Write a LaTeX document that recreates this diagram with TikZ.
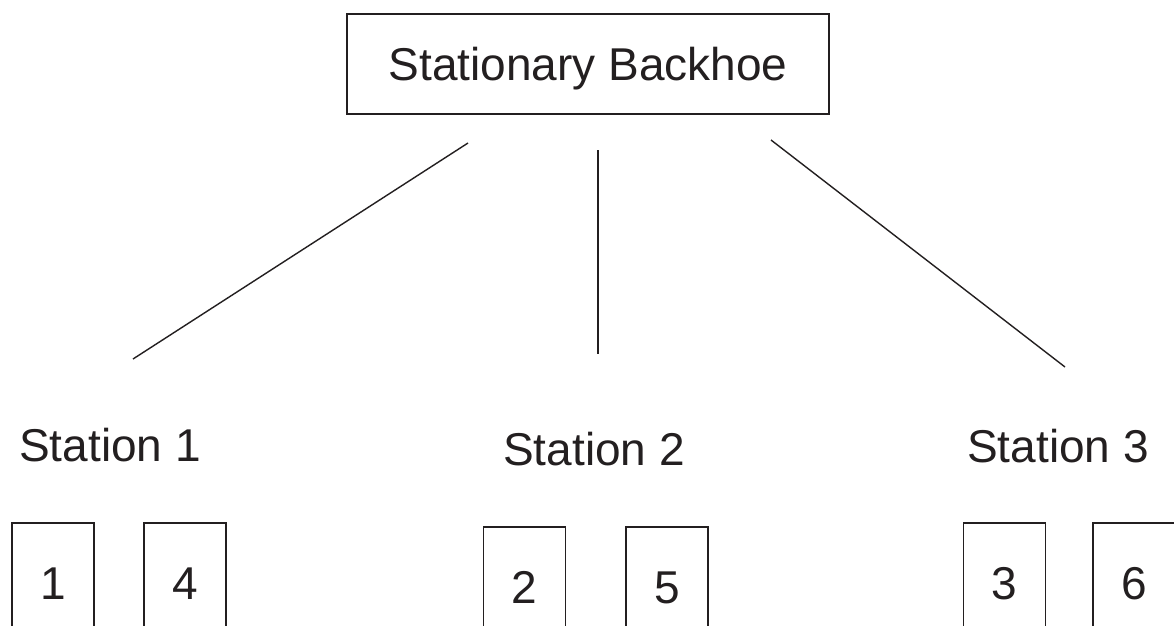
\documentclass[tikz,border=0pt]{standalone}
\usepackage{fontspec}
\setmainfont{Liberation Sans}
\definecolor{ink}{HTML}{231F20}
\begin{document}
\begin{tikzpicture}[x=1pt,y=-1pt,
  lbl/.style={font=\fontsize{46}{50}\selectfont, text=ink, inner sep=0pt},
  frame/.style={draw=ink, line width=1.5pt},
  numbox/.style={frame, lbl, minimum width=82pt, minimum height=120pt, text height=33pt, text depth=0pt},
  link/.style={draw=ink, line width=1.4pt}]
\clip (0,0) rectangle (1174,625);
\useasboundingbox (0,0) rectangle (1174,625);
\fill[white] (0,0) rectangle (1174,625);

\node[frame, lbl, minimum width=482pt, minimum height=100pt, text height=33pt, text depth=0pt] (top) at (588,64) {Stationary Backhoe};

\node[lbl, anchor=base] (s1) at (110,461) {Station 1};
\node[lbl, anchor=base] (s2) at (594,465) {Station 2};
\node[lbl, anchor=base] (s3) at (1058,462) {Station 3};

\coordinate (l1a) at (468,143);
\coordinate (l1b) at (133,359);
\coordinate (l2a) at (598,150);
\coordinate (l2b) at (598,354);
\coordinate (l3a) at (771,140);
\coordinate (l3b) at (1065,367);
\draw[link] (l1a) -- (l1b);
\draw[link] (l2a) -- (l2b);
\draw[link] (l3a) -- (l3b);

\node[numbox] (b1) at (53,583) {1};
\node[numbox] (b4) at (185,583) {4};
\node[numbox] (b2) at (524.5,587) {2};
\node[numbox] (b5) at (667,587) {5};
\node[numbox] (b3) at (1004.5,583) {3};
\node[numbox] (b6) at (1134,583) {6};
\end{tikzpicture}
\end{document}
